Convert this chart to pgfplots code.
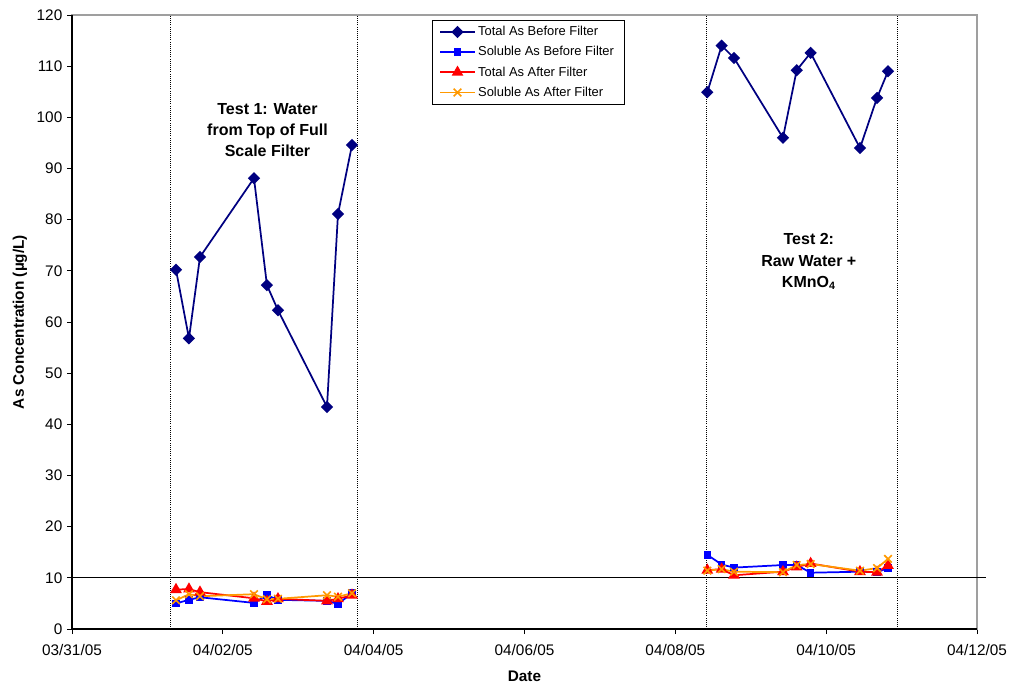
\documentclass[border=0pt]{standalone}
\usepackage{pgfplots}
\pgfplotsset{compat=1.18}
\usepackage{pgfplotstable}
\usepackage{fontspec}
\setmainfont{Liberation Sans}
\definecolor{navyc}{RGB}{0,0,128}
\definecolor{bluec}{RGB}{0,0,255}
\definecolor{redc}{RGB}{255,0,0}
\definecolor{orangec}{RGB}{255,153,0}

\pgfplotstableread{
x y
1.379 70.2
1.551 56.8
1.697 72.7
2.413 88.1
2.585 67.2
2.731 62.3
3.381 43.4
3.527 81.1
3.713 94.6
nan nan
8.424 104.9
8.614 114.0
8.778 111.6
9.427 96.0
9.609 109.2
9.794 112.6
10.448 94.0
10.674 103.8
10.820 109.0
}\totalbefore

\pgfplotstableread{
x y
1.379 5.0
1.551 5.7
1.697 6.2
2.413 5.1
2.585 6.6
2.731 5.7
3.381 5.5
3.527 4.9
3.713 7.0
nan nan
8.424 14.5
8.614 12.6
8.778 12.0
9.427 12.5
9.609 12.5
9.794 11.0
10.448 11.2
10.674 11.1
10.820 11.9
}\solublebefore

\pgfplotstableread{
x y
1.379 7.7
1.551 7.8
1.697 7.2
2.413 6.0
2.585 5.4
2.731 5.9
3.381 5.5
3.527 5.9
3.713 6.6
nan nan
8.424 11.5
8.614 11.7
8.778 10.5
9.427 11.2
9.609 12.1
9.794 12.8
10.448 11.2
10.674 11.1
10.820 12.4
}\totalafter

\pgfplotstableread{
x y
1.379 5.6
1.551 6.8
1.697 6.4
2.413 6.8
2.585 5.8
2.731 5.9
3.381 6.6
3.527 6.3
3.713 7.0
nan nan
8.424 11.4
8.614 11.7
8.778 11.2
9.427 11.1
9.609 12.5
9.794 12.7
10.448 11.4
10.674 11.9
10.820 13.7
}\solubleafter

\begin{document}
\begin{tikzpicture}
\begin{axis}[
  name=ax,
  scale only axis,
  width=678.75pt, height=460.5pt,
  xmin=0, xmax=12, ymin=0, ymax=120,
  xtick={0,2,4,6,8,10,12},
  xticklabels={03/31/05,04/02/05,04/04/05,04/06/05,04/08/05,04/10/05,04/12/05},
  ytick={0,10,...,120},
  tick align=outside,
  xtick pos=bottom, ytick pos=left,
  major tick length=3.75pt,
  tick style={black, line width=0.7pt},
  axis line style={draw=gray!75, line width=1pt},
  unbounded coords=jump,
  clip=false,
  /pgf/number format/assume math mode=true,
  ticklabel style={font=\fontsize{11.5}{14}\selectfont},
  xticklabel style={yshift=-4pt},
  xlabel={Date},
  ylabel={As Concentration (µg/L)},
  every axis x label/.style={at={(axis description cs:0.5,-0.0765)}, anchor=center, font=\bfseries\fontsize{11.5}{14}\selectfont},
  every axis y label/.style={at={(axis description cs:-0.0575,0.5)}, rotate=90, anchor=center, font=\bfseries\fontsize{11.5}{14}\selectfont},
  legend style={at={(0.504,0.992)}, anchor=north, draw=black, line width=0.6pt,
    font=\fontsize{9.7}{11}\selectfont, row sep=2.6pt, inner xsep=5.5pt, inner ysep=2.5pt,
    cells={anchor=west}},
  legend image code/.code={\draw[mark repeat=2,mark phase=2] plot coordinates {(0cm,0cm) (0.45cm,0cm) (0.9cm,0cm)};},
]
% reference lines
\addplot[forget plot, black, line width=0.6pt, densely dotted] coordinates {(1.31,0) (1.31,120)};
\addplot[forget plot, black, line width=0.6pt, densely dotted] coordinates {(3.79,0) (3.79,120)};
\addplot[forget plot, black, line width=0.6pt, densely dotted] coordinates {(8.415,0) (8.415,120)};
\addplot[forget plot, black, line width=0.6pt, densely dotted] coordinates {(10.95,0) (10.95,120)};
\addplot[forget plot, black, line width=1pt] coordinates {(0,10) (12.12,10)};

\addplot[navyc, line width=1.3pt, mark=square*, mark size=2.6pt, mark options={rotate=45, solid}] table {\totalbefore};
\addlegendentry{Total As Before Filter}
\addplot[bluec, line width=1.3pt, mark=square*, mark size=2.2pt] table {\solublebefore};
\addlegendentry{Soluble As Before Filter}
\addplot[redc, line width=1.3pt, mark=triangle*, mark size=3.8pt] table {\totalafter};
\addlegendentry{Total As After Filter}
\addplot[orangec, line width=1.3pt, mark=x, mark size=4pt, mark options={line width=1.2pt}] table {\solubleafter};
\addlegendentry{Soluble As After Filter}

\draw[black, line width=1pt] (rel axis cs:0,1) -- (rel axis cs:0,0) -- (rel axis cs:1,0);

\node[align=center, font=\bfseries\fontsize{12}{16}\selectfont] at (axis cs:2.592,97.5) {Test 1: Water\\from Top of Full\\Scale Filter};
\node[align=center, font=\bfseries\fontsize{12}{16}\selectfont] at (axis cs:9.77,71.8) {Test 2:\\Raw Water +\\KMnO\textsubscript{4}};
\end{axis}
\path ([shift={(-54pt,-47.25pt)}]ax.south west) rectangle ([shift={(27pt,11.25pt)}]ax.north east);
\end{tikzpicture}
\end{document}
